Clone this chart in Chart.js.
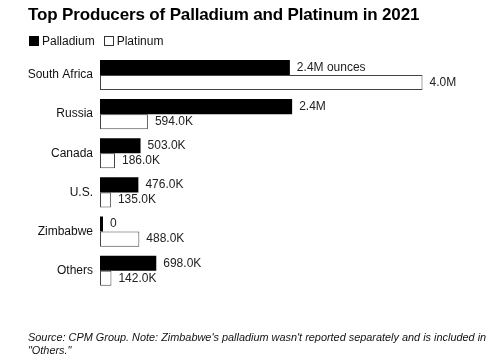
<!DOCTYPE html>
<html>
<head>
<meta charset="utf-8">
<script src="https://cdn.jsdelivr.net/npm/chart.js@4"></script>
<style>
  html, body { margin: 0; padding: 0; background: #fff; }
  body { width: 500px; height: 362px; position: relative; overflow: hidden; font-family: "Liberation Sans", Arial, sans-serif; color: #000; }
  #title { position: absolute; left: 28px; top: 5px; font-size: 17px; font-weight: bold; letter-spacing: -0.15px; white-space: nowrap; }
  #legend { position: absolute; left: 29px; top: 34px; font-size: 12px; color: #111; white-space: nowrap; }
  #legend span.box { display: inline-block; width: 10px; height: 10px; vertical-align: -1px; margin-right: 3px; box-sizing: border-box; }
  #legend span.item { margin-right: 9px; }
  #footer { position: absolute; left: 28px; top: 331px; font-size: 10.9px; line-height: 13px; font-style: italic; color: #111; width: 468px; }
  #wrap { position: absolute; left: 0; top: 0; width: 500px; height: 362px; }
</style>
</head>
<body>
<div id="wrap"><canvas id="c" width="500" height="362"></canvas></div>
<div id="title">Top Producers of Palladium and Platinum in 2021</div>
<div id="legend"><span class="item"><span class="box" style="background:#000"></span>Palladium</span><span class="item"><span class="box" style="background:#fff;border:1px solid #333"></span>Platinum</span></div>
<div id="footer">Source: CPM Group. Note: Zimbabwe's palladium wasn't reported separately and is included in "Others."</div>
<script>
const categories = ["South Africa", "Russia", "Canada", "U.S.", "Zimbabwe", "Others"];
const palladium = [2355000, 2383000, 503000, 476000, 0, 698000];
const platinum = [4000000, 594000, 186000, 135000, 488000, 142000];
const seriesNames = ["Palladium", "Platinum"];
const unitSuffix = " ounces";

function fmt(v) {
  if (v >= 1e6) return (v / 1e6).toFixed(1) + "M";
  if (v === 0) return "0";
  return (v / 1e3).toFixed(1) + "K";
}

const labelPlugin = {
  id: "valueLabels",
  afterDatasetsDraw(chart) {
    const ctx = chart.ctx;
    ctx.save();
    ctx.font = "12px 'Liberation Sans', Arial, sans-serif";
    ctx.fillStyle = "#222";
    ctx.textBaseline = "middle";
    ctx.textAlign = "left";
    chart.data.datasets.forEach((ds, di) => {
      const meta = chart.getDatasetMeta(di);
      meta.data.forEach((bar, i) => {
        let txt = fmt(ds.data[i]);
        if (di === 0 && i === 0) txt += unitSuffix;
        ctx.fillText(txt, bar.x + 7, bar.y);
      });
    });
    ctx.restore();
  }
};

new Chart(document.getElementById("c"), {
  type: "bar",
  data: {
    labels: categories,
    datasets: [
      { label: seriesNames[0], data: palladium, backgroundColor: "#000", borderWidth: 0, minBarLength: 3 },
      { label: seriesNames[1], data: platinum, backgroundColor: "#fff", borderColor: "#444", borderWidth: 1, borderSkipped: false }
    ]
  },
  options: {
    indexAxis: "y",
    responsive: false,
    animation: false,
    devicePixelRatio: 1,
    categoryPercentage: 0.77,
    barPercentage: 1.0,
    layout: { padding: { left: 0, right: 13, top: 55.4, bottom: 71.7 } },
    plugins: { legend: { display: false }, tooltip: { enabled: false }, title: { display: false } },
    scales: {
      x: { display: false, min: 0, max: 4800000 },
      y: {
        grid: { display: false, drawTicks: false },
        border: { display: false },
        ticks: { color: "#111", font: { family: "'Liberation Sans', Arial, sans-serif", size: 12 }, padding: 7 },
        afterFit(scale) { scale.width = 100; }
      }
    }
  },
  plugins: [labelPlugin]
});
</script>
</body>
</html>
